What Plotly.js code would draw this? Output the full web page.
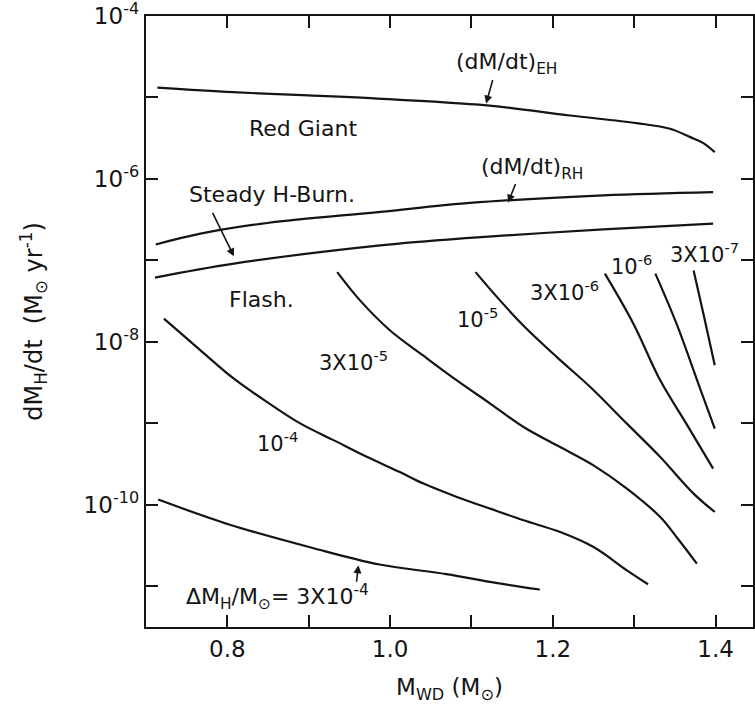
<!DOCTYPE html>
<html>
<head>
<meta charset="utf-8">
<script src="https://cdn.plot.ly/plotly-3.0.1.min.js"></script>
<style>html,body{margin:0;padding:0;background:#fff;}#chart{width:755px;height:705px;}</style>
</head>
<body>
<div id="chart"></div>
<script>
// White dwarf mass (M_sun) and accretion rate dM_H/dt (M_sun / yr)
const ehX = [0.714, 0.807, 0.90, 0.976, 1.119, 1.221, 1.303, 1.344, 1.369, 1.385, 1.399];
const ehY = [1.32e-5, 1.16e-5, 1.06e-5, 9.79e-6, 7.98e-6, 6.01e-6, 4.84e-6, 4.13e-6, 3.26e-6, 2.75e-6, 2.13e-6];

const rhX = [0.712, 0.767, 0.849, 0.988, 1.098, 1.262, 1.397];
const rhY = [1.57e-7, 2.13e-7, 2.88e-7, 3.94e-7, 5.07e-7, 6.28e-7, 6.89e-7];

const steadyLowX = [0.711, 0.808, 0.988, 1.098, 1.262, 1.397];
const steadyLowY = [6.14e-8, 9.12e-8, 1.53e-7, 1.89e-7, 2.40e-7, 2.82e-7];

// Contours of ignition envelope mass Delta M_H / M_sun
const c3e4X = [0.715, 0.803, 0.905, 0.987, 1.069, 1.130, 1.184];
const c3e4Y = [1.16e-10, 5.70e-11, 2.95e-11, 1.85e-11, 1.41e-11, 1.10e-11, 9.12e-12];

const c1e4X = [0.722, 0.767, 0.808, 0.849, 0.890, 0.931, 0.972, 1.012, 1.041, 1.082, 1.123, 1.164, 1.209, 1.250, 1.291, 1.317];
const c1e4Y = [1.93e-8, 7.87e-9, 3.53e-9, 1.82e-9, 9.91e-10, 6.18e-10, 3.85e-10, 2.52e-10, 1.82e-10, 1.25e-10, 8.97e-11, 6.46e-11, 4.63e-11, 3.03e-11, 1.57e-11, 1.06e-11];

const c3e5X = [0.935, 0.963, 1.000, 1.041, 1.082, 1.123, 1.164, 1.205, 1.250, 1.291, 1.332, 1.352, 1.377];
const c3e5Y = [7.18e-8, 3.23e-8, 1.38e-8, 6.76e-9, 3.37e-9, 1.75e-9, 9.02e-10, 5.37e-10, 3.05e-10, 1.58e-10, 7.08e-11, 4.03e-11, 1.90e-11];

const c1e5X = [1.105, 1.135, 1.164, 1.205, 1.246, 1.291, 1.332, 1.373, 1.399];
const c1e5Y = [7.18e-8, 3.23e-8, 1.58e-8, 6.50e-9, 2.79e-9, 9.91e-10, 3.86e-10, 1.37e-10, 8.17e-11];

const c3e6X = [1.264, 1.299, 1.332, 1.364, 1.397];
const c3e6Y = [6.87e-8, 1.67e-8, 3.37e-9, 9.91e-10, 2.78e-10];

const c1e6X = [1.326, 1.352, 1.381, 1.399];
const c1e6Y = [6.87e-8, 1.67e-8, 2.67e-9, 8.61e-10];

const c3e7X = [1.373, 1.386, 1.399];
const c3e7Y = [7.53e-8, 2.01e-8, 5.15e-9];

const xTickVals = [0.8, 0.9, 1.0, 1.1, 1.2, 1.3, 1.4];
const xTickText = ['0.8', '', '1.0', '', '1.2', '', '1.4'];
const yTickVals = [1e-11, 1e-10, 1e-9, 1e-8, 1e-7, 1e-6, 1e-5, 1e-4];
const yTickText = ['', '10<sup>-10</sup>', '', '10<sup>-8</sup>', '', '10<sup>-6</sup>', '', '10<sup>-4</sup>'];

const FONT = 'DejaVu Sans, Liberation Sans, sans-serif';
const INK = '#141414';

const series = [
  [ehX, ehY], [rhX, rhY], [steadyLowX, steadyLowY],
  [c3e4X, c3e4Y], [c1e4X, c1e4Y], [c3e5X, c3e5Y], [c1e5X, c1e5Y],
  [c3e6X, c3e6Y], [c1e6X, c1e6Y], [c3e7X, c3e7Y]
];
const traces = series.map(s => ({
  x: s[0], y: s[1], type: 'scatter', mode: 'lines',
  line: {color: INK, width: 2.2, shape: 'spline', smoothing: 1},
  showlegend: false, hoverinfo: 'skip'
}));

function lab(text, x, logy, size) {
  return {text: text, x: x, y: logy, xref: 'x', yref: 'y', showarrow: false,
          xanchor: 'center', yanchor: 'middle',
          font: {family: FONT, size: size || 21, color: INK}};
}
function arrow(x, logy, ax, ay) {
  return {text: '', x: x, y: logy, xref: 'x', yref: 'y', showarrow: true,
          ax: ax, ay: ay, arrowhead: 2, arrowsize: 1, arrowwidth: 1.6,
          arrowcolor: INK, standoff: 0};
}

const annotations = [
  lab('(dM/dt)<sub>EH</sub>', 1.143, -4.58, 22),
  lab('Red Giant', 0.893, -5.38, 22),
  lab('(dM/dt)<sub>RH</sub>', 1.174, -5.87, 22),
  lab('Steady H-Burn.', 0.855, -6.19, 22),
  lab('Flash.', 0.842, -7.48, 22),
  lab('3X10<sup>-5</sup>', 0.955, -8.23),
  lab('10<sup>-4</sup>', 0.861, -9.23),
  lab('\u0394M<sub>H</sub>/M<sub>\u2299</sub>= 3X10<sup>-4</sup>', 0.861, -11.13, 22),
  lab('10<sup>-5</sup>', 1.107, -7.71),
  lab('3X10<sup>-6</sup>', 1.214, -7.38),
  lab('10<sup>-6</sup>', 1.297, -7.06),
  lab('3X10<sup>-7</sup>', 1.386, -6.91),
  arrow(1.118, -5.074, 7, -25),
  arrow(1.145, -6.29, 8, -20),
  arrow(0.808, -6.95, -22, -45),
  arrow(0.961, -10.742, -2, 18)
];

const axisCommon = {
  showline: true, linecolor: INK, linewidth: 2.2, mirror: 'ticks',
  ticks: 'inside', ticklen: 12, tickwidth: 2, tickcolor: INK,
  showgrid: false, zeroline: false, ticklabeloverflow: 'allow',
  tickfont: {family: FONT, size: 23, color: INK}
};

const layout = {
  width: 755, height: 705,
  margin: {l: 146, r: 2, t: 16, b: 78},
  paper_bgcolor: '#fff', plot_bgcolor: '#fff',
  font: {family: FONT, color: INK},
  xaxis: Object.assign({}, axisCommon, {
    range: [0.7, 1.446], tickmode: 'array', tickvals: xTickVals, ticktext: xTickText,
    title: {text: 'M<sub>WD</sub> (M<sub>\u2299</sub>)', font: {family: FONT, size: 23, color: INK}, standoff: 18}
  }),
  yaxis: Object.assign({}, axisCommon, {
    type: 'log', range: [-11.5, -4], tickmode: 'array', tickvals: yTickVals, ticktext: yTickText,
    title: {text: 'dM<sub>H</sub>/dt  (M<sub>\u2299</sub> yr<sup>-1</sup>)', font: {family: FONT, size: 24, color: INK}, standoff: 34}
  }),
  annotations: annotations
};

Plotly.newPlot('chart', traces, layout, {displayModeBar: false, staticPlot: true});
</script>
</body>
</html>
